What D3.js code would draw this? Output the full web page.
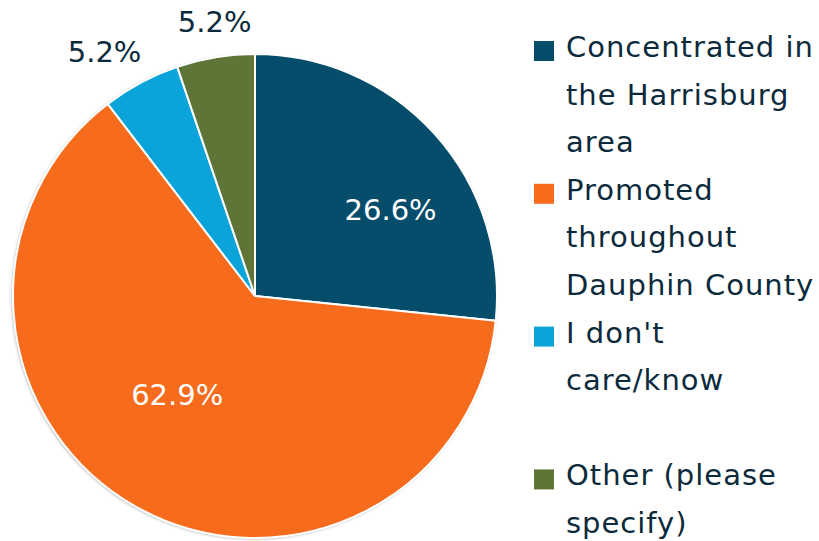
<!DOCTYPE html>
<html>
<head>
<meta charset="utf-8">
<script src="https://cdn.jsdelivr.net/npm/d3@7"></script>
<style>
  html, body { margin: 0; padding: 0; background: #fff; }
  text { font-family: "DejaVu Sans", sans-serif; }
</style>
</head>
<body>
<svg id="chart" width="819" height="541"></svg>
<script>
// data
var categories = ['Concentrated in the Harrisburg area', 'Promoted throughout Dauphin County', "I don't care/know", 'Other (please specify)'];
var values     = [26.6, 62.9, 5.2, 5.2];
var colors     = ['#064d6b', '#f76b1c', '#0aa3da', '#5f7538'];
var legend_lines = [
  ['Concentrated in', 'the Harrisburg', 'area'],
  ['Promoted', 'throughout', 'Dauphin County'],
  ["I don't", 'care/know', ''],
  ['Other (please', 'specify)']
];

// label placement: radius factor and angle shift (deg) per slice
var label_r     = [0.665, 0.52, 1.186, 1.145];
var label_shift = [9.5, 9, -3.5, 1];

var svg = d3.select('#chart');
var cx = 255, cy = 296, r = 242;
var fs = 29, lh = 47.6;

var defs = svg.append('defs');
var flt = defs.append('filter').attr('id', 'shadow')
  .attr('x', '-10%').attr('y', '-10%').attr('width', '120%').attr('height', '120%');
flt.append('feDropShadow')
  .attr('dx', -1).attr('dy', 1).attr('stdDeviation', 1.5)
  .attr('flood-color', '#000').attr('flood-opacity', 0.35);

var pie = d3.pie().sort(null).value((d) => d);
var arcs = pie(values);
var arc = d3.arc().innerRadius(0).outerRadius(r);

var g = svg.append('g').attr('transform', `translate(${cx}, ${cy})`);

g.append('circle').attr('r', r).attr('fill', '#fff').attr('filter', 'url(#shadow)');

g.selectAll('path.slice')
  .data(arcs)
  .enter()
  .append('path')
  .attr('class', 'slice')
  .attr('d', arc)
  .attr('fill', (d, i) => colors[i])
  .attr('stroke', '#fff')
  .attr('stroke-width', 2)
  .attr('stroke-linejoin', 'round');

g.selectAll('text.lbl')
  .data(arcs)
  .enter()
  .append('text')
  .attr('class', 'lbl')
  .attr('x', (d, i) => {
    var a = (d.startAngle + d.endAngle) / 2 + label_shift[i] * Math.PI / 180;
    return Math.sin(a) * r * label_r[i];
  })
  .attr('y', (d, i) => {
    var a = (d.startAngle + d.endAngle) / 2 + label_shift[i] * Math.PI / 180;
    return -Math.cos(a) * r * label_r[i];
  })
  .attr('dy', '0.36em')
  .attr('text-anchor', 'middle')
  .attr('font-size', fs)
  .attr('fill', (d, i) => label_r[i] < 1 ? '#fff' : '#0b2a3b')
  .text((d) => d.data.toFixed(1) + '%');

// legend
var lg = svg.append('g').attr('class', 'legend');
var line_no = 0;
legend_lines.forEach((lines, i) => {
  var base = 57 + line_no * lh;
  lg.append('rect')
    .attr('x', 534).attr('y', base - 16)
    .attr('width', 20).attr('height', 20)
    .attr('fill', colors[i]);
  lines.forEach((t, j) => {
    lg.append('text')
      .attr('x', 566)
      .attr('y', base + j * lh)
      .attr('font-size', fs)
      .attr('letter-spacing', 1)
      .attr('fill', '#0b2a3b')
      .text(t);
  });
  line_no += lines.length;
});
</script>
</body>
</html>
